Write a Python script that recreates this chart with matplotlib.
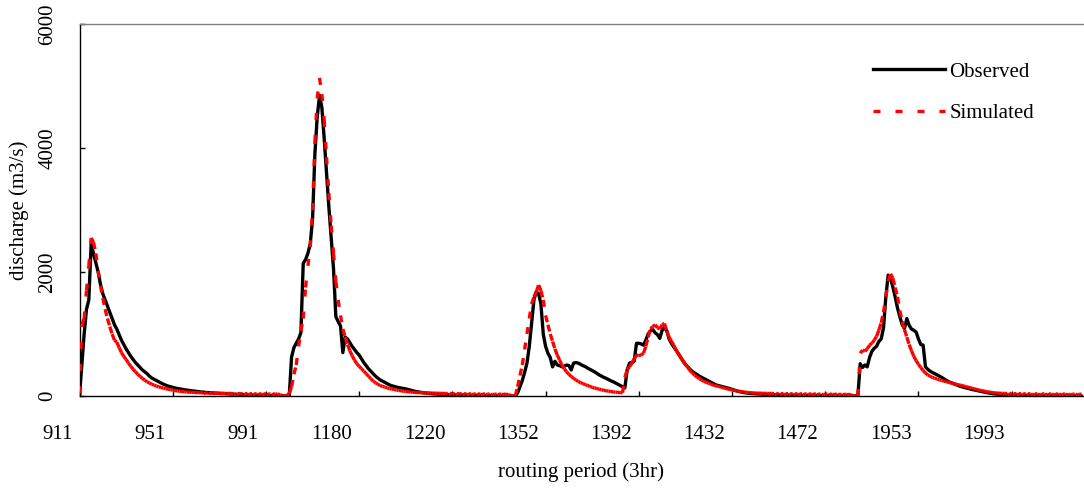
import matplotlib
matplotlib.use('Agg')
import matplotlib.pyplot as plt
import numpy as np
from matplotlib.collections import LineCollection
from matplotlib.lines import Line2D
from matplotlib.transforms import ScaledTranslation

plt.rcParams['font.family'] = ['Liberation Serif', 'DejaVu Serif']

# ---------------- data ----------------
period_labels = ['911', '951', '991', '1180', '1220', '1352', '1392',
                 '1432', '1472', '1953', '1993']

# event 1 (index 0..90)
obs_event1 = [0, 500, 1000, 1400, 1550, 2450, 2300, 2150, 2000, 1800,
              1650, 1550, 1450, 1350, 1250, 1150, 1080, 990, 900, 830,
              760, 700, 640, 590, 540, 500, 460, 420, 390, 360,
              320, 290, 270, 250, 230, 210, 190, 175, 160, 150,
              140, 130, 120, 115, 108, 100, 95, 90, 85, 80,
              75, 70, 66, 62, 58, 55, 52, 50, 48, 45,
              43, 40, 38, 36, 34, 32, 30, 28, 26, 24,
              22, 20, 18, 16, 15, 14, 12, 10, 10, 8,
              8, 6, 5, 5, 4, 3, 2, 2, 1, 0,
              0]
sim_event1 = [50, 1150, 1250, 1700, 2100, 2550, 2480, 2300, 2020, 1780,
              1580, 1400, 1250, 1120, 1000, 900, 870, 780, 700, 640,
              590, 530, 480, 430, 390, 350, 315, 285, 255, 230,
              210, 190, 175, 160, 148, 137, 127, 118, 110, 102,
              95, 88, 82, 77, 72, 68, 64, 62, 60, 58,
              56, 54, 52, 50, 50, 48, 48, 46, 46, 45,
              44, 44, 43, 42, 42, 41, 40, 40, 40, 39,
              38, 38, 37, 37, 36, 36, 35, 35, 34, 34,
              33, 33, 32, 32, 31, 30, 25, 5, 0, 10,
              40]

# event 2 (index 91..186)
obs_event2 = [630, 780, 850, 920, 1020, 2140, 2200, 2300, 2450, 2850,
              3900, 4500, 4850, 4650, 4150, 3600, 3050, 2550, 2050, 1280,
              1200, 1130, 700, 950, 920, 860, 800, 750, 700, 660,
              600, 540, 490, 440, 400, 360, 320, 290, 260, 240,
              220, 200, 180, 165, 155, 145, 135, 128, 122, 115,
              105, 95, 85, 75, 68, 62, 56, 50, 46, 42,
              38, 35, 32, 30, 28, 26, 24, 22, 20, 18,
              17, 16, 14, 13, 12, 11, 10, 9, 8, 7,
              6, 6, 5, 5, 4, 4, 3, 3, 2, 2,
              2, 1, 1, 1, 0, 0]
sim_event2 = [150, 350, 500, 800, 1050, 1250, 1750, 2100, 2400, 3000,
              4100, 4800, 5130, 4870, 4450, 3850, 3270, 2750, 2300, 1850,
              1550, 1300, 1080, 950, 830, 730, 650, 580, 520, 480,
              440, 400, 360, 320, 280, 240, 215, 190, 170, 155,
              145, 130, 120, 112, 105, 97, 90, 84, 78, 72,
              68, 64, 60, 58, 56, 54, 52, 50, 49, 48,
              47, 46, 45, 44, 43, 42, 41, 40, 40, 39,
              38, 38, 37, 36, 36, 35, 35, 34, 34, 33,
              33, 32, 32, 31, 31, 30, 30, 30, 29, 29,
              28, 28, 27, 25, 10, 0]

# event 3 (index 187..233)
obs_event3 = [0, 50, 150, 250, 380, 530, 800, 1170, 1550, 1680,
              1650, 1480, 1000, 800, 690, 620, 470, 560, 500, 490,
              470, 480, 500, 490, 420, 530, 540, 530, 510, 490,
              475, 450, 430, 410, 390, 365, 340, 320, 300, 285,
              265, 245, 230, 210, 190, 170, 150]
sim_event3 = [0, 150, 330, 500, 750, 1000, 1250, 1480, 1600, 1680,
              1790, 1700, 1550, 1300, 1150, 1000, 880, 760, 660, 580,
              500, 440, 390, 350, 315, 285, 260, 235, 215, 200,
              185, 170, 155, 140, 130, 120, 110, 100, 92, 85,
              78, 72, 66, 62, 58, 55, 52]

# event 4 (index 234..333)
obs_event4 = [130, 420, 530, 540, 560, 850, 850, 840, 820, 900,
              1000, 1050, 1070, 1020, 990, 930, 1060, 1110, 1050, 920,
              850, 790, 740, 680, 620, 560, 510, 470, 430, 395,
              370, 345, 320, 300, 280, 260, 240, 220, 200, 180,
              170, 160, 150, 140, 130, 120, 108, 95, 82, 72,
              64, 56, 50, 45, 42, 39, 36, 34, 32, 30,
              28, 26, 24, 22, 20, 19, 18, 17, 16, 15,
              14, 13, 12, 11, 10, 10, 9, 9, 8, 8,
              7, 7, 6, 6, 5, 5, 4, 4, 3, 3,
              3, 2, 2, 2, 1, 1, 1, 0, 0, 0]
sim_event4 = [300, 420, 470, 530, 600, 660, 650, 660, 690, 800,
              950, 1080, 1120, 1150, 1100, 1080, 1150, 1170, 1050, 950,
              880, 820, 740, 680, 620, 570, 510, 460, 410, 370,
              335, 305, 280, 255, 235, 220, 205, 190, 175, 165,
              155, 148, 135, 125, 115, 106, 98, 90, 83, 76,
              70, 65, 60, 56, 53, 50, 48, 46, 45, 44,
              43, 42, 42, 41, 40, 40, 39, 39, 38, 38,
              37, 37, 36, 36, 35, 35, 34, 34, 33, 33,
              32, 32, 31, 31, 30, 30, 30, 29, 29, 28,
              28, 27, 27, 26, 26, 25, 25, 20, 5, 0]

# event 5 (index 334..430)
obs_event5 = [0, 520, 460, 500, 470, 620, 720, 770, 800, 880,
              920, 1100, 1600, 1950, 1900, 1760, 1600, 1420, 1280, 1150,
              1090, 1250, 1140, 1080, 1060, 1030, 920, 830, 820, 470,
              430, 400, 380, 360, 340, 320, 300, 275, 250, 230,
              215, 200, 185, 170, 155, 145, 135, 125, 115, 105,
              97, 88, 80, 72, 65, 58, 50, 44, 38, 33,
              28, 24, 20, 18, 16, 15, 14, 13, 12, 11,
              10, 10, 9, 9, 8, 8, 7, 7, 6, 6,
              6, 5, 5, 5, 4, 4, 4, 3, 3, 3,
              3, 2, 2, 2, 2, 1, 1]
sim_event5 = [0, 690, 740, 720, 760, 820, 850, 900, 960, 1060,
              1180, 1350, 1600, 1850, 1970, 1900, 1750, 1600, 1380, 1200,
              1070, 950, 830, 730, 640, 570, 510, 460, 410, 370,
              340, 320, 300, 285, 275, 260, 250, 240, 230, 220,
              210, 200, 190, 182, 175, 165, 155, 145, 135, 125,
              115, 105, 95, 87, 80, 72, 65, 60, 55, 50,
              47, 44, 42, 41, 40, 40, 39, 39, 38, 38,
              37, 37, 36, 36, 35, 35, 35, 34, 34, 34,
              33, 33, 33, 32, 32, 32, 31, 31, 31, 30,
              30, 30, 30, 29, 29, 29, 28]

observed = np.array(obs_event1 + obs_event2 + obs_event3 + obs_event4 + obs_event5, dtype=float)
simulated = np.array(sim_event1 + sim_event2 + sim_event3 + sim_event4 + sim_event5, dtype=float)
x = np.arange(len(observed))

# ---------------- figure ----------------
W, H = 1084, 490
fig = plt.figure(figsize=(W / 100, H / 100), dpi=100)
L, R, T, B = 79.5, 1083, 24, 396
ax = fig.add_axes([L / W, (H - B) / H, (R - L) / W, (B - T) / H])

LW = 2.4
DASH = (0, (2.1, 4.5))

ax.plot(x, observed, color='black', lw=LW, solid_joinstyle='round',
        solid_capstyle='round', zorder=2)

# simulated: each segment dashed separately (dash pattern restarts per point)
pts = np.column_stack([x, simulated])
segs = np.stack([pts[:-1], pts[1:]], axis=1)
lc = LineCollection(segs, colors='#FF0000', linewidths=LW,
                    linestyles=[DASH], capstyle='butt', zorder=3)
ax.add_collection(lc)

ax.set_xlim(0, 430.6)
ax.set_ylim(0, 6000)

tick_pos = x[::40][:len(period_labels)]
ax.set_xticks(tick_pos)
ax.set_xticklabels(period_labels)
ax.set_yticks([0, 2000, 4000, 6000])

ax.tick_params(axis='x', direction='in', length=3.6, width=1, pad=21,
               labelsize=15, top=False)
ax.tick_params(axis='y', direction='in', length=3.6, width=1, pad=15.8,
               labelsize=15, right=False, labelrotation=90)
for lab in ax.get_yticklabels():
    lab.set_va('center')
off = ScaledTranslation(-7 / 100, 0, fig.dpi_scale_trans)
for lab in ax.get_xticklabels():
    lab.set_ha('right')
    lab.set_transform(lab.get_transform() + off)

ax.spines['right'].set_visible(False)
ax.spines['top'].set_color('#808080')
for s in ('left', 'bottom'):
    ax.spines[s].set_color('black')
for s in ax.spines.values():
    s.set_linewidth(1)

ax.set_xlabel('routing period (3hr)', fontsize=15)
ax.set_ylabel('discharge (m3/s)', fontsize=15)
ax.xaxis.set_label_coords(0.5, (H - 462 - (H - B)) / (B - T))
ax.yaxis.set_label_coords((29.5 - L) / (R - L), 0.5)

handles = [Line2D([], [], color='black', lw=LW),
           Line2D([], [], color='#FF0000', lw=LW, linestyle=DASH,
                  dash_capstyle='butt')]
ax.legend(handles, ['Observed', 'Simulated'], loc='upper left',
          bbox_to_anchor=(873 / W, 1 - 62 / H), bbox_transform=fig.transFigure,
          frameon=False, borderpad=0, borderaxespad=0, handlelength=3.46,
          handletextpad=0.2, labelspacing=1.05, fontsize=15)

fig.savefig('out.png', dpi=100)
